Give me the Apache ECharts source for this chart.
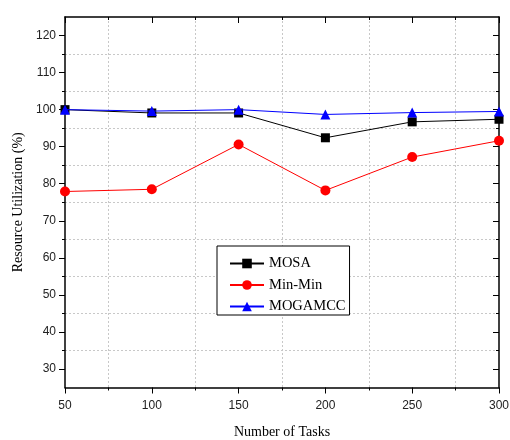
<!DOCTYPE html>
<html><head><meta charset="utf-8">
<script src="https://cdn.jsdelivr.net/npm/echarts@6/dist/echarts.min.js"></script>
<style>html,body{margin:0;padding:0;background:#fff}#c{width:510px;height:440px}</style>
</head><body><div id="c"></div>
<script>
var tasks = [50, 100, 150, 200, 250, 300];
var mosa = [100, 99.1, 99.1, 92.4, 96.7, 97.4];
var minmin = [77.9, 78.5, 90.6, 78.2, 87.2, 91.6];
var mogamcc = [100, 99.6, 100, 98.7, 99.2, 99.5];
var yMajor = [30, 40, 50, 60, 70, 80, 90, 100, 110, 120];
var yMinor = [35, 45, 55, 65, 75, 85, 95, 105, 115];

function pairs(v){ return tasks.map(function(t,i){ return [t, v[i]]; }); }

var chart = echarts.init(document.getElementById('c'));
var axisCol = '#000';
var labelFont = {fontFamily: 'Liberation Sans', fontSize: 12, color: '#222'};
var yBase = {type: 'value', min: 25, max: 125, gridIndex: 0};
chart.setOption({
  animation: false,
  backgroundColor: '#fff',
  grid: {left: 65, right: 11, top: 17, bottom: 52.5, containLabel: false, outerBoundsMode: 'none'},
  xAxis: [
    {type: 'value', min: 50, max: 300, interval: 50, position: 'bottom',
     name: 'Number of Tasks', nameLocation: 'middle', nameGap: 38,
     nameTextStyle: {fontFamily: 'Liberation Serif', fontSize: 14, color: '#000'},
     axisLine: {show: true, lineStyle: {color: axisCol, width: 1.5}},
     axisTick: {show: true, inside: false, length: 6, lineStyle: {color: axisCol, width: 1}},
     minorTick: {show: true, splitNumber: 2, length: 3, lineStyle: {color: axisCol, width: 1}},
     axisLabel: Object.assign({margin: 12}, labelFont),
     splitLine: {show: false},
     minorSplitLine: {show: true, lineStyle: {color: '#c8c8c8', type: [2, 2], width: 1}}},
    {type: 'value', min: 50, max: 300, interval: 50, position: 'top',
     axisLine: {show: true, onZero: false, lineStyle: {color: axisCol, width: 1.5}},
     axisTick: {show: true, inside: true, length: 6, lineStyle: {color: axisCol, width: 1}},
     minorTick: {show: true, splitNumber: 2, length: 3, lineStyle: {color: axisCol, width: 1}},
     axisLabel: {show: false}, splitLine: {show: false}}
  ],
  yAxis: [
    Object.assign({}, yBase, {position: 'left', interval: 10,
     name: 'Resource Utilization (%)', nameLocation: 'middle', nameGap: 40, nameRotate: 90,
     nameTextStyle: {fontFamily: 'Liberation Serif', fontSize: 14, color: '#000'},
     axisLine: {show: true, onZero: false, lineStyle: {color: axisCol, width: 1.5}},
     axisTick: {show: true, inside: false, length: 3, customValues: yMinor, lineStyle: {color: axisCol, width: 1}},
     axisLabel: {show: false},
     splitLine: {show: true, lineStyle: {color: '#c8c8c8', type: [2, 2], width: 1}}}),
    Object.assign({}, yBase, {position: 'left', interval: 5,
     axisLine: {show: false},
     axisTick: {show: true, inside: false, length: 6, customValues: yMajor, lineStyle: {color: axisCol, width: 1}},
     axisLabel: Object.assign({margin: 9, customValues: yMajor}, labelFont),
     splitLine: {show: false}}),
    Object.assign({}, yBase, {position: 'right', interval: 5,
     axisLine: {show: true, onZero: false, lineStyle: {color: axisCol, width: 1.5}},
     axisTick: {show: true, inside: true, length: 3, customValues: yMinor, lineStyle: {color: axisCol, width: 1}},
     axisLabel: {show: false}, splitLine: {show: false}}),
    Object.assign({}, yBase, {position: 'right', interval: 5,
     axisLine: {show: false},
     axisTick: {show: true, inside: true, length: 6, customValues: yMajor, lineStyle: {color: axisCol, width: 1}},
     axisLabel: {show: false}, splitLine: {show: false}})
  ],
  legend: {
    orient: 'vertical', left: 217, top: 246,
    padding: [10, 4, 1, 12], itemGap: 6.5, itemWidth: 34, itemHeight: 12,
    backgroundColor: '#fff', borderColor: '#000', borderWidth: 1, borderRadius: 0,
    textStyle: {fontFamily: 'Liberation Serif', fontSize: 14.5, color: '#000'},
    data: ['MOSA', 'Min-Min', 'MOGAMCC']
  },
  series: [
    {name: 'MOSA', type: 'line', data: pairs(mosa), symbol: 'rect', symbolSize: 9,
     itemStyle: {color: '#000'}, lineStyle: {color: '#000', width: 1}, z: 3},
    {name: 'Min-Min', type: 'line', data: pairs(minmin), symbol: 'circle', symbolSize: 10,
     itemStyle: {color: '#ff0000'}, lineStyle: {color: '#ff0000', width: 1}, z: 3},
    {name: 'MOGAMCC', type: 'line', data: pairs(mogamcc), symbol: 'triangle', symbolSize: 10,
     itemStyle: {color: '#0000ff'}, lineStyle: {color: '#0000ff', width: 1}, z: 4}
  ]
});
</script></body></html>
